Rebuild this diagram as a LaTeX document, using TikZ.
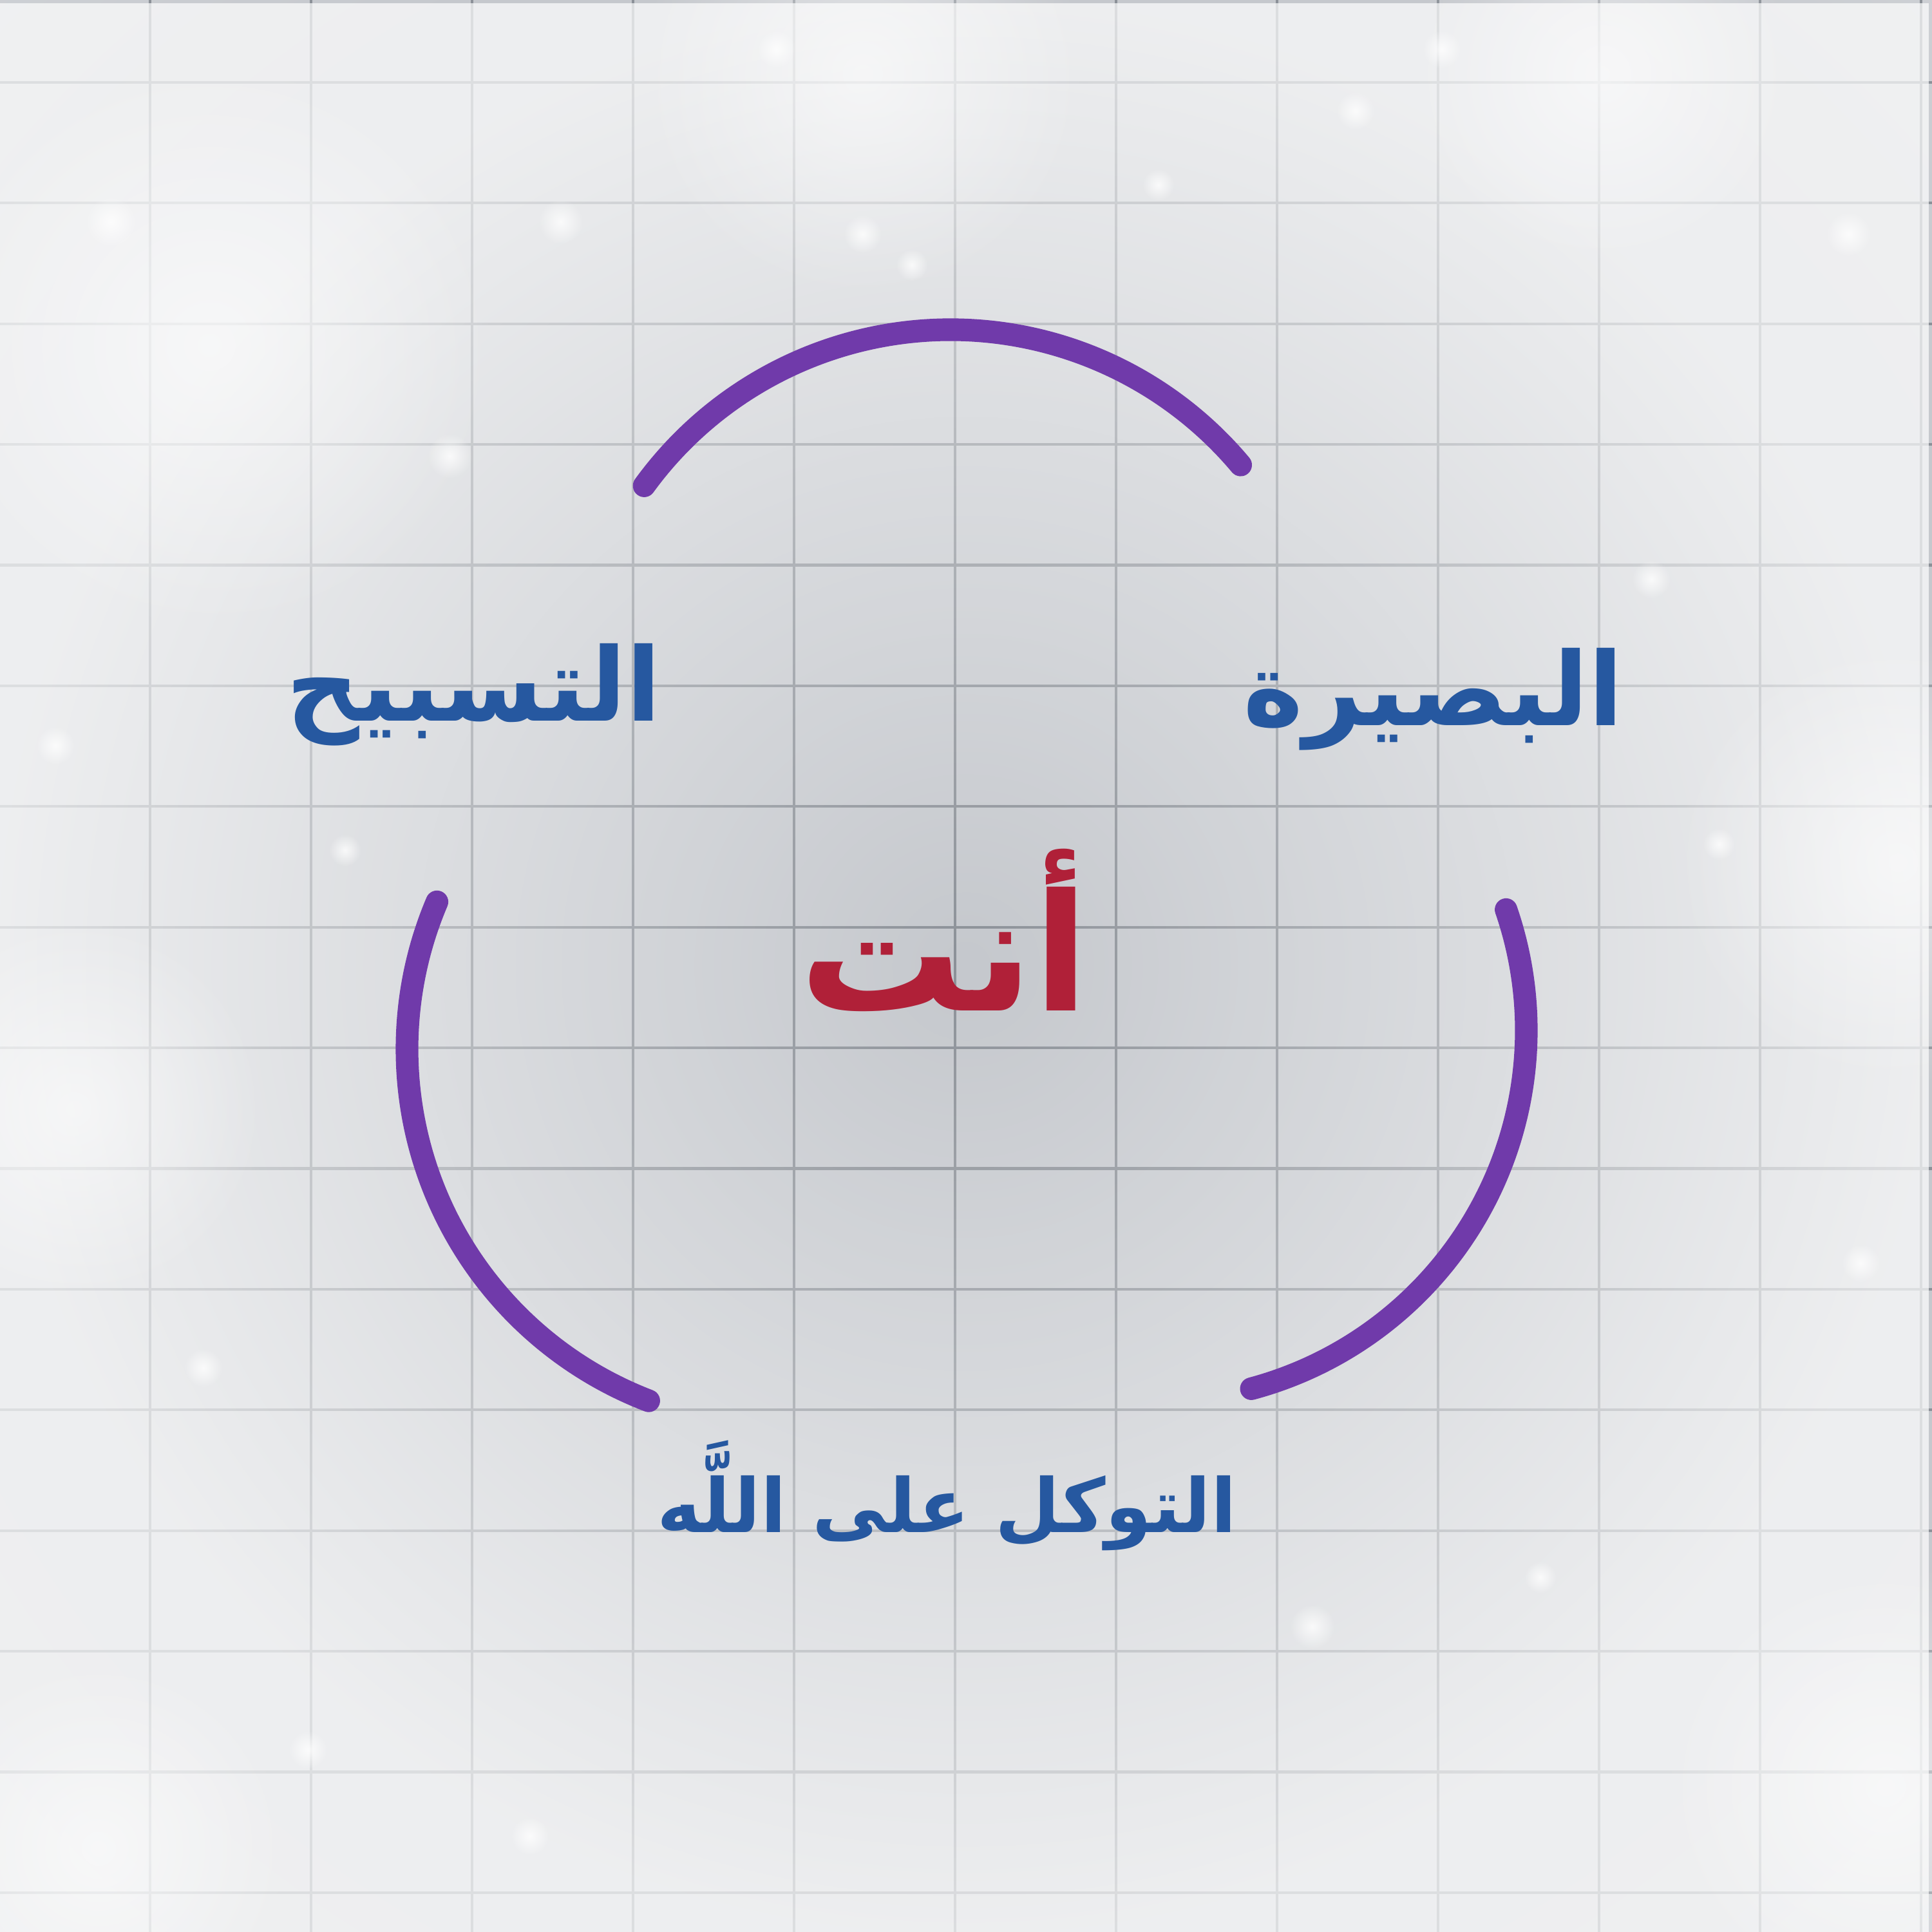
\documentclass[tikz,border=0pt]{standalone}
\usepackage{fontspec}
\newfontfamily\arabicfont[Script=Arabic]{DejaVu Sans}
\TeXXeTstate=1
\usetikzlibrary{fadings}

\definecolor{ringpurple}{RGB}{112,58,170}
\definecolor{labelblue}{RGB}{38,88,160}
\definecolor{corered}{RGB}{176,32,56}
\definecolor{gridgray}{RGB}{140,145,152}
\definecolor{bgmid}{RGB}{197,200,205}
\definecolor{bgedge}{RGB}{222,224,228}
\pgfdeclareradialshading{paper}{\pgfpoint{0bp}{0bp}}{color(0bp)=(bgmid);
  color(28bp)=(bgmid); color(52bp)=(bgedge); color(100bp)=(bgedge)}
\tikzfading[name=edgeglow, inner color=transparent!100, outer color=transparent!0]
\tikzfading[name=sparkfade, inner color=transparent!0, outer color=transparent!100]

\begin{document}
\begin{tikzpicture}[
    ring/.style={draw=ringpurple, line width=10pt, line cap=round},
    virtue/.style={text=labelblue, inner sep=0pt, anchor=base,
      font=\arabicfont\bfseries\fontsize{45}{52}\selectfont},
    core/.style={text=corered, inner sep=0pt, anchor=base,
      font=\arabicfont\bfseries\fontsize{72}{80}\selectfont},
    gridline/.style={draw=gridgray, line width=1.2pt},
    spark/.style={fill=white, path fading=sparkfade, opacity=0.8},
    haze/.style={fill=white, path fading=sparkfade, opacity=0.55}
  ]
  \useasboundingbox (0,0) rectangle (30,30);
  % paper
  \shade[shading=paper] (0,0) rectangle (30,30);
  \foreach \gx in {0,...,11}
    \draw[gridline] (2.33+2.5*\gx,0) -- (2.33+2.5*\gx,30);
  \foreach \gy in {0,...,15}
    \draw[gridline] (0,28.72-1.874*\gy) -- (30,28.72-1.874*\gy);
  \fill[white, path fading=edgeglow, opacity=0.7] (0,0) rectangle (30,30);
  % haze and glitter
  \foreach \hx/\hy/\hr in {170/280/4.5, 60/900/3, 1540/700/3.5,
      1530/1450/3.5, 700/60/3.5, 1300/60/3, 80/1500/3}
    \fill[haze] (\hx*0.019133,30-\hy*0.019133) circle (\hr);
  \foreach \sx/\sy/\sr in {455/180/0.35, 700/190/0.3, 740/215/0.25,
      630/40/0.3, 1100/90/0.3, 1340/470/0.3, 365/370/0.35, 90/180/0.4,
      1500/190/0.35, 1510/1025/0.3, 1065/1320/0.35, 430/1490/0.3,
      165/1110/0.3, 250/1420/0.3, 1250/1280/0.25, 45/605/0.3,
      280/690/0.25, 1395/685/0.25, 1170/40/0.3, 940/150/0.25}
    \fill[spark] (\sx*0.019133,30-\sy*0.019133) circle (\sr);

  % three arcs
  \draw[ring] (14.76,19.00) ++(40:5.88)
    arc[start angle=40, end angle=144, radius=5.88];
  \draw[ring] (12.17,13.71) ++(157:5.85)
    arc[start angle=157, end angle=249, radius=5.85];
  \draw[ring] (17.94,14.00) ++(-75:5.76)
    arc[start angle=-75, end angle=19, radius=5.76];

  % labels
  \node[core] (you) at (14.66,14.30) {\beginR أنت\endR};
  \node[virtue] (insight) at (22.26,18.73) {\beginR البصيرة\endR};
  \node[virtue] (praise) at (7.36,18.80) {\beginR التسبيح\endR};
  \node[virtue, font=\arabicfont\bfseries\fontsize{33}{40}\selectfont]
    (trust) at (14.70,6.20) {\beginR التوكل على اللَّه\endR};
\end{tikzpicture}
\end{document}
